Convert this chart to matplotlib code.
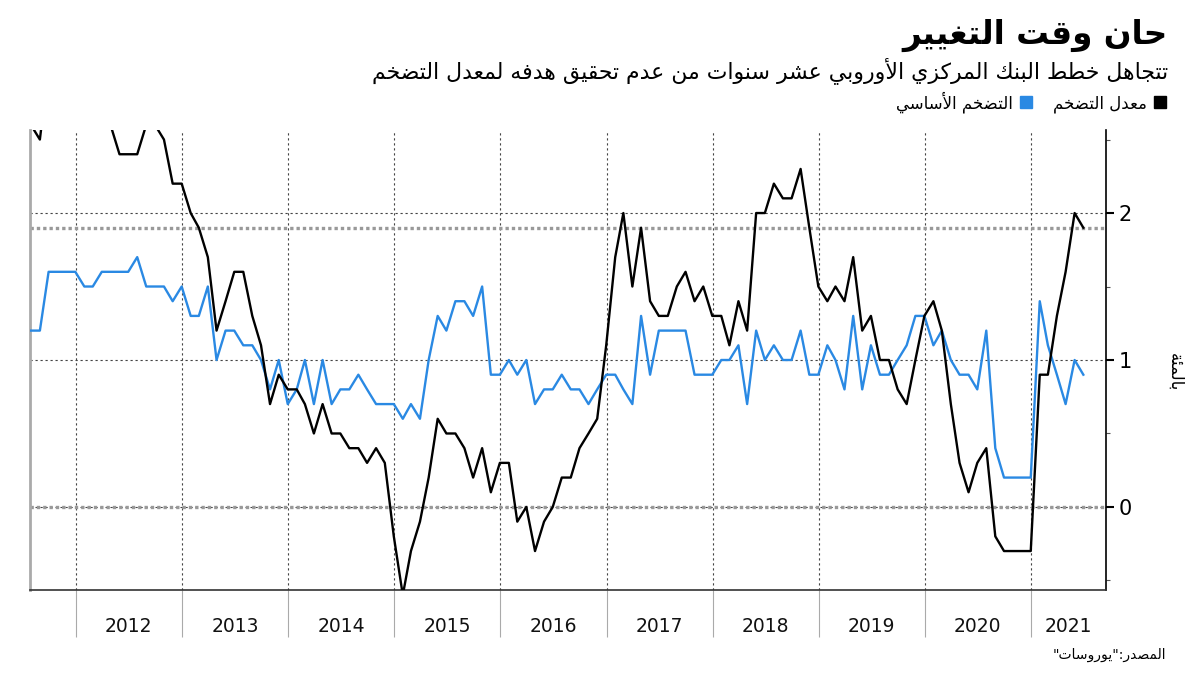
import numpy as np
import pandas as pd
import matplotlib
matplotlib.use('Agg')
import matplotlib.pyplot as plt
import matplotlib.dates as mdates
import matplotlib.transforms as mtransforms
from matplotlib.lines import Line2D

plt.rcParams['font.family'] = ['DejaVu Sans']

# monthly data, Jul 2011 - Jun 2021 (month end)
months = pd.date_range('2011-07-31', periods=120, freq='ME')

headline = [
    2.6, 2.5, 3.0, 3.0, 3.0, 2.7,
    2.7, 2.7, 2.7, 2.6, 2.4, 2.4, 2.4, 2.6, 2.6, 2.5, 2.2, 2.2,
    2.0, 1.9, 1.7, 1.2, 1.4, 1.6, 1.6, 1.3, 1.1, 0.7, 0.9, 0.8,
    0.8, 0.7, 0.5, 0.7, 0.5, 0.5, 0.4, 0.4, 0.3, 0.4, 0.3, -0.2,
    -0.6, -0.3, -0.1, 0.2, 0.6, 0.5, 0.5, 0.4, 0.2, 0.4, 0.1, 0.3,
    0.3, -0.1, 0.0, -0.3, -0.1, 0.0, 0.2, 0.2, 0.4, 0.5, 0.6, 1.1,
    1.7, 2.0, 1.5, 1.9, 1.4, 1.3, 1.3, 1.5, 1.6, 1.4, 1.5, 1.3,
    1.3, 1.1, 1.4, 1.2, 2.0, 2.0, 2.2, 2.1, 2.1, 2.3, 1.9, 1.5,
    1.4, 1.5, 1.4, 1.7, 1.2, 1.3, 1.0, 1.0, 0.8, 0.7, 1.0, 1.3,
    1.4, 1.2, 0.7, 0.3, 0.1, 0.3, 0.4, -0.2, -0.3, -0.3, -0.3, -0.3,
    0.9, 0.9, 1.3, 1.6, 2.0, 1.9,
]

core = [
    1.2, 1.2, 1.6, 1.6, 1.6, 1.6,
    1.5, 1.5, 1.6, 1.6, 1.6, 1.6, 1.7, 1.5, 1.5, 1.5, 1.4, 1.5,
    1.3, 1.3, 1.5, 1.0, 1.2, 1.2, 1.1, 1.1, 1.0, 0.8, 1.0, 0.7,
    0.8, 1.0, 0.7, 1.0, 0.7, 0.8, 0.8, 0.9, 0.8, 0.7, 0.7, 0.7,
    0.6, 0.7, 0.6, 1.0, 1.3, 1.2, 1.4, 1.4, 1.3, 1.5, 0.9, 0.9,
    1.0, 0.9, 1.0, 0.7, 0.8, 0.8, 0.9, 0.8, 0.8, 0.7, 0.8, 0.9,
    0.9, 0.8, 0.7, 1.3, 0.9, 1.2, 1.2, 1.2, 1.2, 0.9, 0.9, 0.9,
    1.0, 1.0, 1.1, 0.7, 1.2, 1.0, 1.1, 1.0, 1.0, 1.2, 0.9, 0.9,
    1.1, 1.0, 0.8, 1.3, 0.8, 1.1, 0.9, 0.9, 1.0, 1.1, 1.3, 1.3,
    1.1, 1.2, 1.0, 0.9, 0.9, 0.8, 1.2, 0.4, 0.2, 0.2, 0.2, 0.2,
    1.4, 1.1, 0.9, 0.7, 1.0, 0.9,
]

years = list(range(2012, 2022))
target = 1.9

title = 'حان وقت التغيير'
subtitle = 'تتجاهل خطط البنك المركزي الأوروبي عشر سنوات من عدم تحقيق هدفه لمعدل التضخم'
label_headline = 'معدل التضخم'
label_core = 'التضخم الأساسي'
ylabel = 'بالمئة'
source = 'المصدر:"يوروسات"'

# --- minimal arabic shaping (matplotlib has no bidi / joining) ---
FORMS = {'ء': (0xFE80, 1), 'آ': (0xFE81, 2), 'أ': (0xFE83, 2), 'ؤ': (0xFE85, 2),
         'إ': (0xFE87, 2), 'ئ': (0xFE89, 4), 'ا': (0xFE8D, 2), 'ب': (0xFE8F, 4),
         'ة': (0xFE93, 2), 'ت': (0xFE95, 4), 'ث': (0xFE99, 4), 'ج': (0xFE9D, 4),
         'ح': (0xFEA1, 4), 'خ': (0xFEA5, 4), 'د': (0xFEA9, 2), 'ذ': (0xFEAB, 2),
         'ر': (0xFEAD, 2), 'ز': (0xFEAF, 2), 'س': (0xFEB1, 4), 'ش': (0xFEB5, 4),
         'ص': (0xFEB9, 4), 'ض': (0xFEBD, 4), 'ط': (0xFEC1, 4), 'ظ': (0xFEC5, 4),
         'ع': (0xFEC9, 4), 'غ': (0xFECD, 4), 'ف': (0xFED1, 4), 'ق': (0xFED5, 4),
         'ك': (0xFED9, 4), 'ل': (0xFEDD, 4), 'م': (0xFEE1, 4), 'ن': (0xFEE5, 4),
         'ه': (0xFEE9, 4), 'و': (0xFEED, 2), 'ى': (0xFEEF, 2), 'ي': (0xFEF1, 4)}
LAM_ALEF = {'آ': 0xFEF5, 'أ': 0xFEF7, 'إ': 0xFEF9, 'ا': 0xFEFB}


def ar(text):
    out = []
    prev_joins = False
    i = 0
    while i < len(text):
        c = text[i]
        nxt = text[i + 1] if i + 1 < len(text) else ''
        if c not in FORMS:
            out.append(c)
            prev_joins = False
            i += 1
            continue
        if c == 'ل' and nxt in LAM_ALEF:
            out.append(chr(LAM_ALEF[nxt] + (1 if prev_joins else 0)))
            prev_joins = False
            i += 2
            continue
        base, nf = FORMS[c]
        next_joins = nxt in FORMS and FORMS[nxt][1] > 1
        if nf == 4:
            if prev_joins and next_joins:
                form = 3
            elif prev_joins:
                form = 1
            elif next_joins:
                form = 2
            else:
                form = 0
        elif nf == 2:
            form = 1 if prev_joins else 0
        else:
            form = 0
        out.append(chr(base + form))
        prev_joins = nf == 4
        i += 1
    return ''.join(reversed(out))


fig = plt.figure(figsize=(12, 6.75), dpi=100)
ax = fig.add_axes([0.025, 0.12593, 0.89667, 0.68148])

black = '#000000'
blue = '#2a89e3'

ax.plot(months, headline, color=black, lw=1.7, zorder=4)
ax.plot(months, core, color=blue, lw=1.7, zorder=3)

xmin = pd.Timestamp('2011-07-28')
xmax = pd.Timestamp('2021-09-16')
ax.set_xlim(xmin, xmax)
ax.set_ylim(-0.565, 2.565)

# gridlines
ax.set_yticks([0, 1, 2])
ax.set_yticks([-0.5, 0.5, 1.5, 2.5], minor=True)
ax.grid(axis='y', which='major', color='#444444', lw=0.8, linestyle=(0, (2, 2.5)))
ax.grid(axis='x', which='major', color='#444444', lw=0.8, linestyle=(0, (2, 2.5)))
ax.axhline(0, color='#999999', lw=2.4, linestyle=(0, (1, 0.9)), zorder=2)
ax.axhline(target, color='#999999', lw=2.4, linestyle=(0, (1, 0.9)), zorder=2)

# y axis on the right
ax.yaxis.tick_right()
ax.tick_params(axis='y', which='major', length=6, width=1.5, color='black',
               labelsize=15, pad=3)
ax.tick_params(axis='y', which='minor', length=3, width=0.8, color='#555555')

# x axis: year separators below the plot and centred labels
ax.xaxis.set_major_locator(mdates.YearLocator())
ax.tick_params(axis='x', which='major', length=34, width=0.8, color='#aaaaaa',
               labelbottom=False)
trans = mtransforms.blended_transform_factory(ax.transData, ax.transAxes)
for y in years:
    start = pd.Timestamp(y, 1, 1)
    end = min(pd.Timestamp(y + 1, 1, 1), xmax)
    mid = start + (end - start) / 2
    ax.text(mid, -0.08, str(y), transform=trans, ha='center', va='center',
            fontsize=13.5, color='#111111')

ax.spines['top'].set_visible(False)
ax.spines['left'].set_color('#aaaaaa')
ax.spines['left'].set_linewidth(2)
ax.spines['bottom'].set_color('#333333')
ax.spines['bottom'].set_linewidth(1.2)
ax.spines['right'].set_color('black')
ax.spines['right'].set_linewidth(1.2)

# texts
fig.text(0.9733, 0.948, ar(title), ha='right', va='center', fontsize=23.5,
         fontweight='bold')
fig.text(0.9733, 0.896, ar(subtitle), ha='right', va='center', fontsize=15.8)
fig.text(0.979, 0.449, ar(ylabel), rotation=270, ha='center', va='center',
         fontsize=12)
fig.text(0.9717, 0.0296, ar(source), ha='right', va='center', fontsize=10)

handles = [Line2D([], [], marker='s', color=blue, linestyle='none', markersize=9),
           Line2D([], [], marker='s', color=black, linestyle='none', markersize=9)]
fig.legend(handles, [ar(label_core), ar(label_headline)], ncol=2, markerfirst=False,
           loc='upper right', bbox_to_anchor=(0.978, 0.875), frameon=False,
           fontsize=12, handlelength=0.8, handletextpad=0.4, columnspacing=1.2,
           borderaxespad=0)

fig.savefig('out.png', dpi=100)
